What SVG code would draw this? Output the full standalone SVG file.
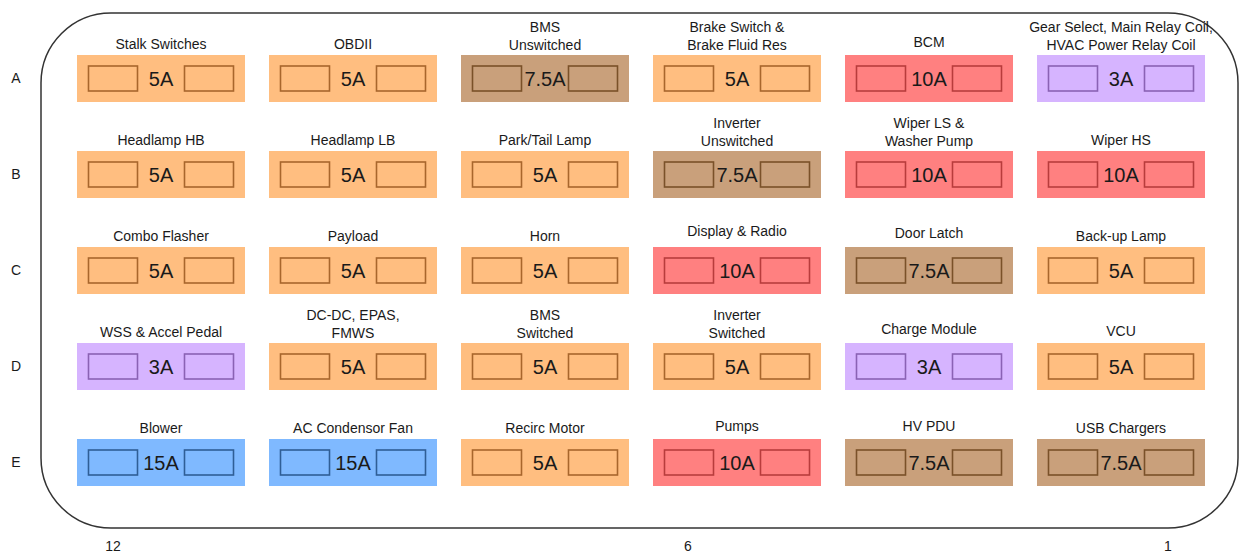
<svg xmlns="http://www.w3.org/2000/svg" width="1239" height="553" viewBox="0 0 1239 553">
<style>
text{font-family:"Liberation Sans",Arial,sans-serif;fill:#1a1a1a;stroke:none;text-anchor:middle}
.lbl{font-size:14px}
.amp{font-size:20px}
.axis{font-size:14px}
.o{fill:#FFBE80;stroke:#A8662C}
.br{fill:#C9A07B;stroke:#7A5129}
.r{fill:#FF8080;stroke:#B83C3C}
.p{fill:#D6B4FF;stroke:#8A62B4}
.bl{fill:#7FB9FF;stroke:#2F5E96}
</style>
<defs>
<g id="f"><rect x="0" y="0" width="168" height="47" stroke="none"/><rect x="11.5" y="11" width="49" height="25" fill="none" stroke-width="1.6"/><rect x="107.5" y="11" width="49" height="25" fill="none" stroke-width="1.6"/></g>
</defs>
<rect id="box" x="41" y="13" width="1197" height="515" rx="70" ry="70" fill="none" stroke="#333" stroke-width="1.5"/>
<g id="axes">
<text class="axis" x="16" y="83">A</text>
<text class="axis" x="16" y="179">B</text>
<text class="axis" x="16" y="275">C</text>
<text class="axis" x="16" y="371">D</text>
<text class="axis" x="16" y="467">E</text>
<text class="axis" x="113" y="551">12</text>
<text class="axis" x="688" y="551">6</text>
<text class="axis" x="1168" y="551">1</text>
</g>
<g id="A1" class="o" transform="translate(77,55)"><use href="#f"/><text class="amp" x="84" y="30.5">5A</text></g>
<text class="lbl" x="161" y="49">Stalk Switches</text>
<g id="A2" class="o" transform="translate(269,55)"><use href="#f"/><text class="amp" x="84" y="30.5">5A</text></g>
<text class="lbl" x="353" y="49">OBDII</text>
<g id="A3" class="br" transform="translate(461,55)"><use href="#f"/><text class="amp" x="84" y="30.5">7.5A</text></g>
<text class="lbl" x="545" y="32">BMS</text><text class="lbl" x="545" y="50">Unswitched</text>
<g id="A4" class="o" transform="translate(653,55)"><use href="#f"/><text class="amp" x="84" y="30.5">5A</text></g>
<text class="lbl" x="737" y="32">Brake Switch &amp;</text><text class="lbl" x="737" y="50">Brake Fluid Res</text>
<g id="A5" class="r" transform="translate(845,55)"><use href="#f"/><text class="amp" x="84" y="30.5">10A</text></g>
<text class="lbl" x="929" y="47">BCM</text>
<g id="A6" class="p" transform="translate(1037,55)"><use href="#f"/><text class="amp" x="84" y="30.5">3A</text></g>
<text class="lbl" x="1121" y="32">Gear Select, Main Relay Coil,</text><text class="lbl" x="1121" y="50">HVAC Power Relay Coil</text>

<g id="B1" class="o" transform="translate(77,151)"><use href="#f"/><text class="amp" x="84" y="30.5">5A</text></g>
<text class="lbl" x="161" y="145">Headlamp HB</text>
<g id="B2" class="o" transform="translate(269,151)"><use href="#f"/><text class="amp" x="84" y="30.5">5A</text></g>
<text class="lbl" x="353" y="145">Headlamp LB</text>
<g id="B3" class="o" transform="translate(461,151)"><use href="#f"/><text class="amp" x="84" y="30.5">5A</text></g>
<text class="lbl" x="545" y="145">Park/Tail Lamp</text>
<g id="B4" class="br" transform="translate(653,151)"><use href="#f"/><text class="amp" x="84" y="30.5">7.5A</text></g>
<text class="lbl" x="737" y="128">Inverter</text><text class="lbl" x="737" y="146">Unswitched</text>
<g id="B5" class="r" transform="translate(845,151)"><use href="#f"/><text class="amp" x="84" y="30.5">10A</text></g>
<text class="lbl" x="929" y="128">Wiper LS &amp;</text><text class="lbl" x="929" y="146">Washer Pump</text>
<g id="B6" class="r" transform="translate(1037,151)"><use href="#f"/><text class="amp" x="84" y="30.5">10A</text></g>
<text class="lbl" x="1121" y="145">Wiper HS</text>

<g id="C1" class="o" transform="translate(77,247)"><use href="#f"/><text class="amp" x="84" y="30.5">5A</text></g>
<text class="lbl" x="161" y="241">Combo Flasher</text>
<g id="C2" class="o" transform="translate(269,247)"><use href="#f"/><text class="amp" x="84" y="30.5">5A</text></g>
<text class="lbl" x="353" y="241">Payload</text>
<g id="C3" class="o" transform="translate(461,247)"><use href="#f"/><text class="amp" x="84" y="30.5">5A</text></g>
<text class="lbl" x="545" y="241">Horn</text>
<g id="C4" class="r" transform="translate(653,247)"><use href="#f"/><text class="amp" x="84" y="30.5">10A</text></g>
<text class="lbl" x="737" y="236">Display &amp; Radio</text>
<g id="C5" class="br" transform="translate(845,247)"><use href="#f"/><text class="amp" x="84" y="30.5">7.5A</text></g>
<text class="lbl" x="929" y="238">Door Latch</text>
<g id="C6" class="o" transform="translate(1037,247)"><use href="#f"/><text class="amp" x="84" y="30.5">5A</text></g>
<text class="lbl" x="1121" y="241">Back-up Lamp</text>

<g id="D1" class="p" transform="translate(77,343)"><use href="#f"/><text class="amp" x="84" y="30.5">3A</text></g>
<text class="lbl" x="161" y="337">WSS &amp; Accel Pedal</text>
<g id="D2" class="o" transform="translate(269,343)"><use href="#f"/><text class="amp" x="84" y="30.5">5A</text></g>
<text class="lbl" x="353" y="320">DC-DC, EPAS,</text><text class="lbl" x="353" y="338">FMWS</text>
<g id="D3" class="o" transform="translate(461,343)"><use href="#f"/><text class="amp" x="84" y="30.5">5A</text></g>
<text class="lbl" x="545" y="320">BMS</text><text class="lbl" x="545" y="338">Switched</text>
<g id="D4" class="o" transform="translate(653,343)"><use href="#f"/><text class="amp" x="84" y="30.5">5A</text></g>
<text class="lbl" x="737" y="320">Inverter</text><text class="lbl" x="737" y="338">Switched</text>
<g id="D5" class="p" transform="translate(845,343)"><use href="#f"/><text class="amp" x="84" y="30.5">3A</text></g>
<text class="lbl" x="929" y="334">Charge Module</text>
<g id="D6" class="o" transform="translate(1037,343)"><use href="#f"/><text class="amp" x="84" y="30.5">5A</text></g>
<text class="lbl" x="1121" y="336">VCU</text>

<g id="E1" class="bl" transform="translate(77,439)"><use href="#f"/><text class="amp" x="84" y="30.5">15A</text></g>
<text class="lbl" x="161" y="433">Blower</text>
<g id="E2" class="bl" transform="translate(269,439)"><use href="#f"/><text class="amp" x="84" y="30.5">15A</text></g>
<text class="lbl" x="353" y="433">AC Condensor Fan</text>
<g id="E3" class="o" transform="translate(461,439)"><use href="#f"/><text class="amp" x="84" y="30.5">5A</text></g>
<text class="lbl" x="545" y="433">Recirc Motor</text>
<g id="E4" class="r" transform="translate(653,439)"><use href="#f"/><text class="amp" x="84" y="30.5">10A</text></g>
<text class="lbl" x="737" y="431">Pumps</text>
<g id="E5" class="br" transform="translate(845,439)"><use href="#f"/><text class="amp" x="84" y="30.5">7.5A</text></g>
<text class="lbl" x="929" y="431">HV PDU</text>
<g id="E6" class="br" transform="translate(1037,439)"><use href="#f"/><text class="amp" x="84" y="30.5">7.5A</text></g>
<text class="lbl" x="1121" y="433">USB Chargers</text>
</svg>
